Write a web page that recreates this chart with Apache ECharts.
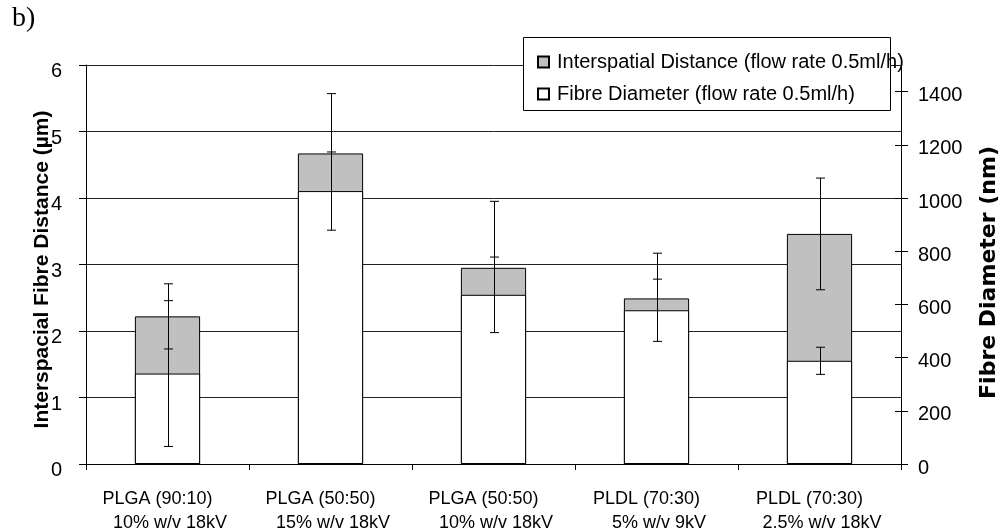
<!DOCTYPE html>
<html><head><meta charset="utf-8">
<script src="https://cdn.jsdelivr.net/npm/echarts@6/dist/echarts.min.js"></script>
<style>html,body{margin:0;padding:0;background:#fff}#c{width:1000px;height:531px}</style>
</head><body><div id="c"></div>
<script>
const categoryLine1 = ['PLGA (90:10)', 'PLGA (50:50)', 'PLGA (50:50)', 'PLDL (70:30)', 'PLDL (70:30)'];
const categoryLine2 = ['10% w/v 18kV', '15% w/v 18kV', '10% w/v 18kV', '5% w/v 9kV', '2.5% w/v 18kV'];
const interspatialDistance = [2.22, 4.67, 2.95, 2.49, 3.46];
const interspatialError = [0.49, 0.90, 1.00, 0.68, 0.84];
const fibreDiameter = [340, 1026, 636, 578, 388];
const fibreError = [274, 147, 142, 117, 51];
const leftTicks = [0, 1, 2, 3, 4, 5, 6];
const rightTicks = [0, 200, 400, 600, 800, 1000, 1200, 1400];
const seriesNames = ['Interspatial Distance (flow rate 0.5ml/h)', 'Fibre Diameter (flow rate 0.5ml/h)'];
const leftTitle = 'Interspacial Fibre Distance (µm)';
const rightTitle = 'Fibre Diameter (nm)';
const panelLabel = 'b)';

const FONT = 'Liberation Sans';
const categories = categoryLine1.map((a, i) => a + '\n' + categoryLine2[i]);

function errRender(params, api) {
  const x = api.value(0), v = api.value(1), e = api.value(2);
  const top = api.coord([x, v + e]);
  const bot = api.coord([x, v - e]);
  const cx = Math.round(top[0]) + 0.5;
  const cap = 4.5;
  const st = { stroke: '#000', lineWidth: 1 };
  return { type: 'group', children: [
    { type: 'line', shape: { x1: cx, y1: top[1], x2: cx, y2: bot[1] }, style: st },
    { type: 'line', shape: { x1: cx - cap, y1: top[1], x2: cx + cap, y2: top[1] }, style: st },
    { type: 'line', shape: { x1: cx - cap, y1: bot[1], x2: cx + cap, y2: bot[1] }, style: st }
  ]};
}

const chart = echarts.init(document.getElementById('c'), null, { renderer: 'canvas' });
chart.setOption({
  animation: false,
  backgroundColor: '#fff',
  textStyle: { fontFamily: FONT, color: '#000' },
  grid: { left: 86, right: 99, top: 65, bottom: 67, containLabel: false, outerBoundsMode: 'none' },
  graphic: { elements: [
    { type: 'text', left: 12, top: 5, z: 10,
      style: { text: panelLabel, font: '28px "Liberation Serif"', fill: '#000' } },
    { type: 'rect', z: 10, shape: { x: 523.5, y: 37.5, width: 367, height: 73 },
      style: { fill: '#fff', stroke: '#000', lineWidth: 1 } }
  ]},
  legend: {
    z: 20, orient: 'vertical', left: 537, top: 52, padding: 0, itemGap: 12,
    itemWidth: 11, itemHeight: 11, icon: 'rect',
    data: seriesNames,
    textStyle: { fontFamily: FONT, fontSize: 20, lineHeight: 20, color: '#000', padding: [0, 0, 0, 3] }
  },
  xAxis: {
    type: 'category', data: categories, boundaryGap: true,
    axisLine: { lineStyle: { color: '#000', width: 1 } },
    axisTick: { show: true, length: 6, alignWithLabel: false, lineStyle: { color: '#000' } },
    axisLabel: {
      margin: 23, interval: 0, color: '#000',
      formatter: (v, i) => '{a|' + categoryLine1[i] + '}\n{b|' + categoryLine2[i] + '}',
      rich: {
        a: { fontFamily: FONT, fontSize: 18, lineHeight: 24, color: '#000', padding: [0, 20, 0, 0] },
        b: { fontFamily: FONT, fontSize: 18, lineHeight: 24, color: '#000', padding: [0, 0, 0, 5] }
      }
    },
    splitLine: { show: false }
  },
  yAxis: [
    { type: 'value', position: 'left', min: 0, max: 6, interval: 1,
      name: leftTitle, nameLocation: 'middle', nameRotate: 90, nameGap: 33, nameMoveOverlap: false,
      nameTextStyle: { fontFamily: FONT, fontWeight: 'bold', fontSize: 21, color: '#000', padding: [0, 10, 0, 0] },
      axisLine: { show: true, lineStyle: { color: '#000', width: 1 } },
      axisTick: { show: true, length: 7, lineStyle: { color: '#000' } },
      axisLabel: { margin: 24, fontFamily: FONT, fontSize: 20, color: '#000',
        verticalAlign: 'top', lineHeight: 13, customValues: leftTicks },
      splitLine: { show: true, lineStyle: { color: '#222', width: 1 } }
    },
    { type: 'value', position: 'right', offset: 0, min: 0, max: 1500, interval: 100,
      name: rightTitle, nameLocation: 'middle', nameRotate: 90, nameGap: 77, nameMoveOverlap: false,
      nameTextStyle: { fontFamily: 'DejaVu Sans', fontWeight: 'bold', fontSize: 22, color: '#000', padding: [0, 16, 0, 0] },
      axisLine: { show: true, lineStyle: { color: '#000', width: 1 } },
      axisTick: { show: true, length: 7, lineStyle: { color: '#000' }, customValues: rightTicks },
      axisLabel: { margin: 17, fontFamily: FONT, fontSize: 20, color: '#000',
        verticalAlign: 'top', lineHeight: 8, formatter: v => String(v), customValues: rightTicks },
      splitLine: { show: false }
    },
    { type: 'value', position: 'right', offset: 0, min: 0, max: 1500, interval: 100,
      axisLine: { show: false },
      axisTick: { show: true, inside: true, length: 6, lineStyle: { color: '#000' }, customValues: rightTicks },
      axisLabel: { show: false },
      splitLine: { show: false }
    }
  ],
  series: [
    { name: seriesNames[0], type: 'bar', yAxisIndex: 0, z: 2, barWidth: '40%', barGap: '-100%',
      data: interspatialDistance,
      itemStyle: { color: '#c0c0c0', borderColor: '#000', borderWidth: 1 } },
    { name: 'errA', type: 'custom', yAxisIndex: 0, z: 3, renderItem: errRender,
      encode: { x: 0, y: 1 },
      data: interspatialDistance.map((v, i) => [i, v, interspatialError[i]]) },
    { name: seriesNames[1], type: 'bar', yAxisIndex: 1, z: 4, barWidth: '40%', barGap: '-100%',
      data: fibreDiameter,
      itemStyle: { color: '#ffffff', borderColor: '#000', borderWidth: 1 } },
    { name: 'errB', type: 'custom', yAxisIndex: 1, z: 5, renderItem: errRender,
      encode: { x: 0, y: 1 },
      data: fibreDiameter.map((v, i) => [i, v, fibreError[i]]) }
  ]
});
</script>
</body></html>
